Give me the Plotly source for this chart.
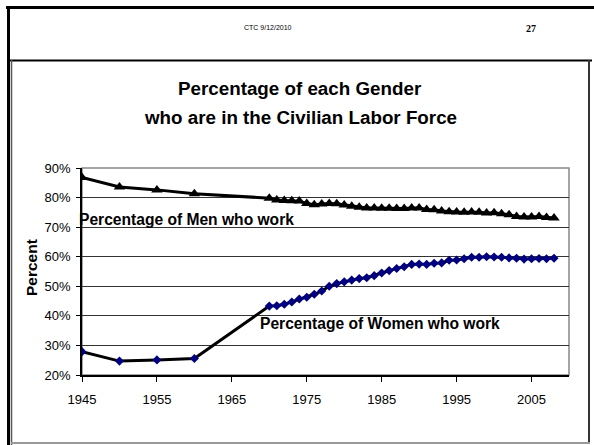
import plotly.graph_objects as go

years = [1945, 1950, 1955, 1960] + list(range(1970, 2009))
men = [86.8, 83.6, 82.6, 81.3,
       79.8, 79.2, 79.0, 78.9, 78.8, 78.0, 77.6, 77.8, 78.0, 77.9,
       77.5, 77.1, 76.7, 76.5, 76.5, 76.4, 76.4, 76.3, 76.3, 76.5,
       76.5, 76.0, 75.9, 75.5, 75.2, 75.1, 75.0, 75.1, 75.0, 74.8,
       74.9, 74.5, 74.2, 73.6, 73.4, 73.4, 73.6, 73.3, 73.1]
women = [27.9, 24.7, 25.1, 25.6,
         43.3, 43.4, 43.9, 44.7, 45.7, 46.3, 47.3, 48.4, 50.0, 50.9,
         51.5, 52.1, 52.6, 52.9, 53.6, 54.5, 55.3, 56.0, 56.6, 57.4,
         57.5, 57.4, 57.8, 57.9, 58.8, 58.9, 59.3, 59.8, 59.8, 60.0,
         59.9, 59.8, 59.6, 59.5, 59.2, 59.3, 59.4, 59.3, 59.5]

W, H = 594, 445
L, R, T, B = 82, 25, 168, 70
pw, ph = W - L - R, H - T - B


def px(x):
    return (x - L) / pw


def py(y):
    return (H - B - y) / ph


FONT = "Liberation Sans, Arial, sans-serif"

fig = go.Figure()
fig.add_trace(go.Scatter(x=years, y=men, mode='lines+markers', name='Men',
                         line=dict(color='black', width=3),
                         marker=dict(symbol='triangle-up', size=10, color='black')))
fig.add_trace(go.Scatter(x=years, y=women, mode='lines+markers', name='Women',
                         line=dict(color='black', width=3),
                         marker=dict(symbol='diamond', size=7, color='#000080')))

fig.update_layout(
    width=W, height=H, showlegend=False,
    margin=dict(l=L, r=R, t=T, b=B),
    paper_bgcolor='white', plot_bgcolor='white',
    font=dict(family=FONT, color='black', size=13),
)
fig.update_xaxes(range=[1945, 2010], tickvals=[1945, 1955, 1965, 1975, 1985, 1995, 2005],
                 showgrid=False, showline=True, linecolor='black', linewidth=1.5,
                 ticks='outside', ticklen=5, tickcolor='black', ticklabelstandoff=7,
                 zeroline=False)
fig.update_yaxes(range=[20, 90], dtick=10, ticksuffix='%',
                 showgrid=True, gridcolor='#333333', gridwidth=1,
                 showline=True, linecolor='black', linewidth=1.5,
                 ticks='outside', ticklen=4, tickcolor='black', ticklabelstandoff=3,
                 zeroline=False)

lines = [
    # outer frame
    (6, 7.5, 594, 7.5, 'black', 3),
    (8.5, 6, 8.5, 445, 'black', 3),
    # chart box
    (10, 60.5, 592, 60.5, 'black', 2),
    (11.5, 60, 11.5, 445, '#555555', 1.5),
    (589, 60, 589, 443, '#333333', 2),
    (11, 443, 590, 443, '#999999', 2),
]
shapes = [dict(type='line', xref='paper', yref='paper', x0=px(a), y0=py(b), x1=px(c), y1=py(d),
               line=dict(color=col, width=w)) for a, b, c, d, col, w in lines]
shapes.append(dict(type='rect', xref='paper', yref='paper', x0=0, y0=0, x1=1, y1=1,
                   line=dict(color='#888888', width=1.5), layer='below'))
fig.update_layout(shapes=shapes)

notes = [
    ("CTC 9/12/2010", 268, 27, 7, False, 'center'),
    ("<b>27</b>", 531, 28, 10, False, 'center'),
    ("<b>Percentage of each Gender</b>", 300, 88, 18.8, False, 'center'),
    ("<b>who are in the Civilian Labor Force</b>", 300, 117, 18.8, False, 'center'),
    ("<b>Percentage of Men who work</b>", 77, 219, 15.6, False, 'left'),
    ("<b>Percentage of Women who work</b>", 258, 323, 15.6, False, 'left'),
    ("<b>Percent</b>", 31, 268, 15.5, True, 'center'),
]
for text, x, y, size, rot, align in notes:
    fam = "Liberation Serif, Times New Roman, serif" if text == "<b>27</b>" else FONT
    fig.add_annotation(text=text, xref='paper', yref='paper', x=px(x), y=py(y),
                       xanchor=align, yanchor='middle', showarrow=False,
                       textangle=-90 if rot else 0,
                       font=dict(family=fam, size=size, color='black'))

fig.write_html("out.html", config={'displayModeBar': False},
               post_script="document.body.style.margin='0';")
